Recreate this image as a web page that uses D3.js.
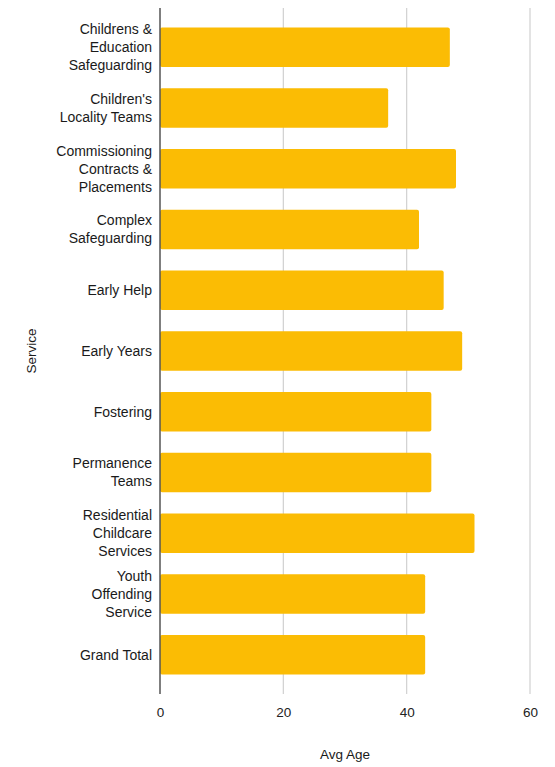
<!DOCTYPE html>
<html><head><meta charset="utf-8">
<script src="https://cdn.jsdelivr.net/npm/d3@7"></script>
<style>body{margin:0;background:#fff}</style>
</head><body>
<script>
const categories = [
  ["Childrens &","Education","Safeguarding"],
  ["Children's","Locality Teams"],
  ["Commissioning","Contracts &","Placements"],
  ["Complex","Safeguarding"],
  ["Early Help"],
  ["Early Years"],
  ["Fostering"],
  ["Permanence","Teams"],
  ["Residential","Childcare","Services"],
  ["Youth","Offending","Service"],
  ["Grand Total"]
];
const avgAge = [47, 37, 48, 42, 46, 49, 44, 44, 51, 43, 43];
const xTicks = [0, 20, 40, 60];
const xTitle = "Avg Age";
const yTitle = "Service";

(function () {
const W = 555, H = 767;
const svg = d3.select("body").append("svg").attr("width", W).attr("height", H)
  .style("font-family", "'Liberation Sans', Arial, sans-serif");

const mLeft = 160, mRight = 530, mTop = 8, mBottom = 694;
const x = d3.scaleLinear().domain([0, 60]).range([mLeft, mRight]);
const y = d3.scaleBand().domain(d3.range(categories.length)).range([mTop, mBottom])
  .paddingInner(0.35).paddingOuter(0.32);

// grid
svg.append("g").selectAll("line").data(xTicks.filter(t => t > 0)).join("line")
  .attr("x1", d => x(d)).attr("x2", d => x(d)).attr("y1", mTop).attr("y2", mBottom)
  .attr("stroke", "#d0d0d0").attr("stroke-width", 1.2);

// bars
svg.append("g").selectAll("rect").data(avgAge).join("rect")
  .attr("x", x(0)).attr("y", (d, i) => y(i))
  .attr("width", d => x(d) - x(0)).attr("height", y.bandwidth())
  .attr("rx", 2).attr("fill", "#FBBC04");

// axis line
svg.append("line").attr("x1", x(0)).attr("x2", x(0)).attr("y1", mTop).attr("y2", mBottom)
  .attr("stroke", "#555").attr("stroke-width", 1.5);

// x axis ticks
const xAxis = d3.axisBottom(x).tickValues(xTicks).tickSize(0).tickPadding(0);
const gx = svg.append("g").attr("transform", `translate(0,${mBottom})`).call(xAxis);
gx.select(".domain").remove();
gx.selectAll("text").attr("y", 13).attr("font-size", 13.5).attr("fill", "#222")
  .attr("font-family", "'Liberation Sans', Arial, sans-serif");

// category labels
const lh = 18;
const gy = svg.append("g");
categories.forEach((lines, i) => {
  const cy = y(i) + y.bandwidth() / 2;
  const t = gy.append("text").attr("text-anchor", "end").attr("font-size", 14).attr("fill", "#1a1a1a");
  lines.forEach((ln, j) => {
    t.append("tspan").attr("x", 152)
      .attr("y", cy + (j - (lines.length - 1) / 2) * lh)
      .attr("dy", "0.35em").text(ln);
  });
});

// titles
svg.append("text").attr("x", (mLeft + mRight) / 2).attr("y", 754).attr("dy", "0.35em")
  .attr("text-anchor", "middle").attr("font-size", 13.5).attr("fill", "#1a1a1a").text(xTitle);
svg.append("text").attr("transform", `translate(31,${(mTop + mBottom) / 2}) rotate(-90)`)
  .attr("dy", "0.35em").attr("text-anchor", "middle").attr("font-size", 13.5).attr("fill", "#1a1a1a").text(yTitle);
})();
</script>
</body></html>
